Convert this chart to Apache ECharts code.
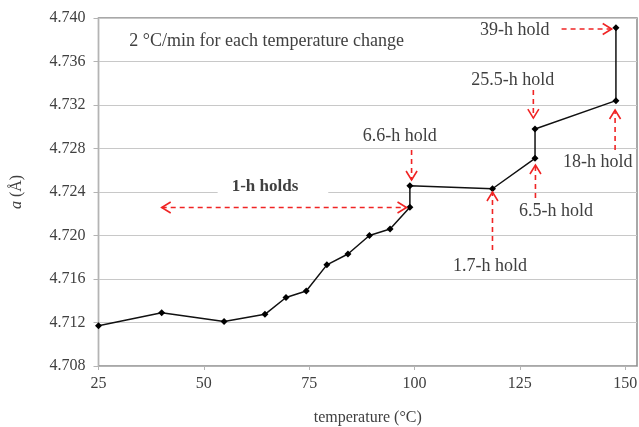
<!DOCTYPE html>
<html>
<head>
<meta charset="utf-8">
<script src="https://cdn.jsdelivr.net/npm/echarts@6/dist/echarts.min.js"></script>
<style>
  html, body { margin: 0; padding: 0; background: #fff; }
  #chart { width: 639px; height: 427px; }
</style>
</head>
<body>
<div id="chart"></div>
<script>
// Lattice parameter a versus temperature during stepwise heating with holds
const temperatures = [25, 40, 54.8, 64.5, 69.5, 74.3, 79.2, 84.2, 89.3, 94.2, 98.9, 98.9, 118.5, 128.6, 128.6, 147.8, 147.8];
const latticeA = [4.7117, 4.7129, 4.7121, 4.71275, 4.7143, 4.7149, 4.7173, 4.7183, 4.7200, 4.7206, 4.7226, 4.72458, 4.7243, 4.7271, 4.7298, 4.7324, 4.7391];

// Hold annotations: arrow start/end in data units, label anchor in data units
const holdLabels = ['1-h holds', '6.6-h hold', '1.7-h hold', '6.5-h hold', '25.5-h hold', '18-h hold', '39-h hold'];
const arrowFrom = [[40.0, 4.72258], [99.3, 4.72786], [118.5, 4.71867], [128.7, 4.72345], [128.2, 4.73338], [147.6, 4.72786], [134.9, 4.73899]];
const arrowTo   = [[98.1, 4.72258], [99.3, 4.72510], [118.5, 4.72400], [128.7, 4.72648], [128.2, 4.73080], [147.6, 4.73154], [146.8, 4.73899]];
const labelAt   = [[66.4, 4.72449], [96.5, 4.72909], [117.9, 4.71720], [133.6, 4.72219], [123.3, 4.73430], [143.5, 4.72673], [123.8, 4.73890]];
const doubleHead = [true, false, false, false, false, false, false];

const noteText = '2 °C/min for each temperature change';
const noteAt = [64.9, 4.73785];

const FONT = '"Liberation Serif", "DejaVu Serif", serif';
const RED = '#f02424';
const TEXT = '#404040';

const chart = echarts.init(document.getElementById('chart'));

chart.setOption({
  animation: false,
  grid: {
    left: 98.5, right: 2, top: 18, bottom: 61,
    outerBoundsMode: 'none',
    show: true, borderColor: '#8c8c8c', borderWidth: 1.5, backgroundColor: 'transparent'
  },
  xAxis: {
    type: 'value', min: 25, max: 152.8, interval: 25,
    name: 'temperature (°C)', nameLocation: 'middle', nameGap: 44,
    nameTextStyle: { fontFamily: FONT, fontSize: 16, color: TEXT },
    axisLine: { show: true, lineStyle: { color: '#b4b4b4', width: 1 } },
    axisTick: { show: true, length: 4, lineStyle: { color: '#b4b4b4' } },
    axisLabel: { fontFamily: FONT, fontSize: 16, color: TEXT, margin: 10, showMaxLabel: false },
    splitLine: { show: false }
  },
  yAxis: {
    type: 'value', min: 4.708, max: 4.740, interval: 0.004,
    name: '{i|a} (Å)', nameLocation: 'middle', nameGap: 74, nameRotate: 90,
    nameTextStyle: {
      fontFamily: FONT, fontSize: 16, color: TEXT,
      rich: { i: { fontFamily: FONT, fontSize: 16, fontStyle: 'italic', color: TEXT } }
    },
    axisLine: { show: true, lineStyle: { color: '#b4b4b4', width: 1 } },
    axisTick: { show: true, length: 5, lineStyle: { color: '#b4b4b4' } },
    axisLabel: {
      fontFamily: FONT, fontSize: 16, color: TEXT, margin: 13,
      formatter: v => v.toFixed(3)
    },
    splitLine: { show: true, lineStyle: { color: '#c8c8c8', width: 1.2 } }
  },
  series: [{
    type: 'line',
    data: temperatures.map((t, i) => [t, latticeA[i]]),
    symbol: 'diamond', symbolSize: 7,
    lineStyle: { color: '#111', width: 1.5 },
    itemStyle: { color: '#000' },
    z: 5
  }]
});

// Annotation overlay positioned through the grid's coordinate system
function px(p) { return chart.convertToPixel({ gridIndex: 0 }, p); }

function head(tip, from) {
  const dx = tip[0] - from[0], dy = tip[1] - from[1];
  const len = Math.hypot(dx, dy) || 1;
  const ux = dx / len, uy = dy / len;
  const back = 9, half = 5.5;
  return [
    [tip[0] - ux * back - uy * half, tip[1] - uy * back + ux * half],
    [tip[0], tip[1]],
    [tip[0] - ux * back + uy * half, tip[1] - uy * back - ux * half]
  ];
}

const graphics = [];
holdLabels.forEach((label, i) => {
  const a = px(arrowFrom[i]);
  const b = px(arrowTo[i]);
  graphics.push({
    type: 'line', z: 10,
    shape: { x1: a[0], y1: a[1], x2: b[0], y2: b[1] },
    style: { stroke: RED, lineWidth: 1.6, lineDash: [5, 4] }
  });
  graphics.push({
    type: 'polyline', z: 10,
    shape: { points: head(b, a) },
    style: { stroke: RED, lineWidth: 1.6, fill: null }
  });
  if (doubleHead[i]) {
    graphics.push({
      type: 'polyline', z: 10,
      shape: { points: head(a, b) },
      style: { stroke: RED, lineWidth: 1.6, fill: null }
    });
  }
  const c = px(labelAt[i]);
  const isMain = i === 0;
  graphics.push({
    type: 'text', z: 12, x: c[0], y: c[1],
    style: {
      text: label, fontFamily: FONT, fontSize: isMain ? 17 : 18,
      fontWeight: isMain ? 'bold' : 'normal',
      fill: TEXT, align: 'center', verticalAlign: 'middle',
      backgroundColor: isMain ? '#fff' : null,
      padding: isMain ? [3, 30, 3, 14] : 0
    }
  });
});

const n = px(noteAt);
graphics.push({
  type: 'text', z: 12, x: n[0], y: n[1],
  style: {
    text: noteText, fontFamily: FONT, fontSize: 18, fill: TEXT,
    align: 'center', verticalAlign: 'middle'
  }
});

chart.setOption({ graphic: graphics });
</script>
</body>
</html>
